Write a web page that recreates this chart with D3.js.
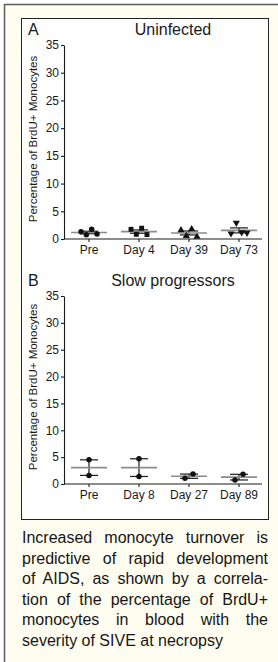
<!DOCTYPE html>
<html>
<head>
<meta charset="utf-8">
<script src="https://cdn.jsdelivr.net/npm/d3@7"></script>
<style>
  body { margin: 0; background: #fff; font-family: "Liberation Sans", Arial, sans-serif; }
  #wrap { position: relative; width: 278px; height: 662px; overflow: hidden; }
  #caption { position: absolute; left: 22px; top: 528px; width: 246px; font-size: 16px; line-height: 20.5px; color: #161616; }
  #caption div { text-align: justify; text-align-last: justify; white-space: nowrap; }
  #caption div.last { text-align-last: left; }
</style>
</head>
<body>
<div id="wrap">
  <svg id="chart" width="278" height="662"></svg>
  <div id="caption"></div>
</div>
<script>
const categoriesA = ["Pre", "Day 4", "Day 39", "Day 73"];
const valuesA = [
  [1.3, 0.75, 1.75, 0.9],
  [1.75, 0.85, 1.95, 0.8],
  [1.6, 0.55, 1.8, 0.4],
  [1.0, 2.9, 1.2, 1.1]
];
const categoriesB = ["Pre", "Day 8", "Day 27", "Day 89"];
const valuesB = [
  [4.5, 1.6],
  [4.7, 1.4],
  [1.05, 1.85],
  [0.75, 1.8]
];
const yTicks = [0, 5, 10, 15, 20, 25, 30, 35];
const yDomain = [0, 35];
const yLabel = "Percentage of BrdU+ Monocytes";
const captionLines = [
  "Increased monocyte turnover is",
  "predictive of rapid development",
  "of AIDS, as shown by a correla-",
  "tion of the percentage of BrdU+",
  "monocytes in blood with the",
  "severity of SIVE at necropsy"
];

const ink = "#1a1a1a";
const font = "'Liberation Sans', Arial, sans-serif";
const svg = d3.select("#chart");

// cream page frame, open to the right and bottom
svg.append("rect")
  .attr("x", 4.5).attr("y", 4.5)
  .attr("width", 320).attr("height", 720)
  .attr("fill", "#fffdf0")
  .attr("stroke", "#5a5a5a")
  .attr("stroke-width", 1.5);

// white figure box
svg.append("rect")
  .attr("x", 21.5).attr("y", 18.5)
  .attr("width", 247).attr("height", 501)
  .attr("fill", "#fff")
  .attr("stroke", "#222")
  .attr("stroke-width", 1);

const symbolsA = [d3.symbolCircle, d3.symbolSquare, d3.symbolTriangle, "down"];

function drawPanel(opts) {
  const g = svg.append("g").attr("class", "panel");
  const x = d3.scaleBand(opts.categories, [64, 264]);
  const y = d3.scaleLinear(yDomain, [opts.bottom, opts.top]);

  // letter and title
  g.append("text")
    .attr("x", 28).attr("y", opts.top - 10)
    .attr("font-family", font).attr("font-size", 16).attr("fill", ink)
    .text(opts.letter);
  g.append("text")
    .attr("x", 173).attr("y", opts.top - 10)
    .attr("text-anchor", "middle")
    .attr("font-family", font).attr("font-size", 16).attr("fill", ink)
    .text(opts.title);

  const yAxis = g.append("g")
    .attr("transform", "translate(64,0)")
    .call(d3.axisLeft(y).tickValues(yTicks).tickSize(3).tickSizeOuter(0).tickPadding(2));
  const xAxis = g.append("g")
    .attr("transform", `translate(0,${opts.bottom})`)
    .call(d3.axisBottom(x).tickSize(3).tickSizeOuter(0).tickPadding(3));
  xAxis.select("path").attr("d", `M64,0H262`);

  g.selectAll(".domain, .tick line").attr("stroke", ink).attr("stroke-width", 1.1);
  g.selectAll(".tick text")
    .attr("font-family", font).attr("font-size", 12).attr("fill", ink);

  g.append("text")
    .attr("transform", `translate(37,${(opts.top + opts.bottom) / 2 - 3}) rotate(-90)`)
    .attr("text-anchor", "middle")
    .attr("font-family", font).attr("font-size", 11.5).attr("fill", ink)
    .text(yLabel);

  opts.values.forEach((vals, i) => {
    const cx = x(opts.categories[i]) + x.bandwidth() / 2;
    const mean = d3.mean(vals);
    const sem = d3.deviation(vals) / Math.sqrt(vals.length);

    // error bar (mean ± SEM)
    g.append("line")
      .attr("x1", cx).attr("x2", cx)
      .attr("y1", y(mean - sem)).attr("y2", y(mean + sem))
      .attr("stroke", ink).attr("stroke-width", 1.2);
    [mean - sem, mean + sem].forEach(v => {
      g.append("line")
        .attr("x1", cx - 9).attr("x2", cx + 9)
        .attr("y1", y(v)).attr("y2", y(v))
        .attr("stroke", ink).attr("stroke-width", 1.2);
    });
    // mean line
    g.append("line")
      .attr("x1", cx - 18).attr("x2", cx + 18)
      .attr("y1", y(mean)).attr("y2", y(mean))
      .attr("stroke", "#8c8c8c").attr("stroke-width", 1.6);

    // points, spread sideways when they crowd together
    const crowded = d3.max(vals) - d3.min(vals) < 2.5;
    const n = vals.length;
    const step = Math.min(8, 16 / Math.max(1, n - 1));
    const shape = opts.symbols ? opts.symbols[i] : d3.symbolCircle;
    vals.forEach((v, j) => {
      const px = cx + (crowded ? (j - (n - 1) / 2) * step : 0);
      const sym = shape === "down" ? d3.symbolTriangle : shape;
      const size = sym === d3.symbolCircle ? 24 : sym === d3.symbolSquare ? 24 : 22;
      g.append("path")
        .attr("d", d3.symbol(sym, size)())
        .attr("transform", `translate(${px},${y(v)})` + (shape === "down" ? " rotate(180)" : ""))
        .attr("fill", "#111");
    });
  });
}

drawPanel({ letter: "A", title: "Uninfected", categories: categoriesA, values: valuesA,
  top: 45, bottom: 239, symbols: symbolsA });
drawPanel({ letter: "B", title: "Slow progressors", categories: categoriesB, values: valuesB,
  top: 296, bottom: 484 });

d3.select("#caption").selectAll("div")
  .data(captionLines)
  .join("div")
  .attr("class", (d, i) => i === captionLines.length - 1 ? "last" : null)
  .text(d => d);
</script>
</body>
</html>
